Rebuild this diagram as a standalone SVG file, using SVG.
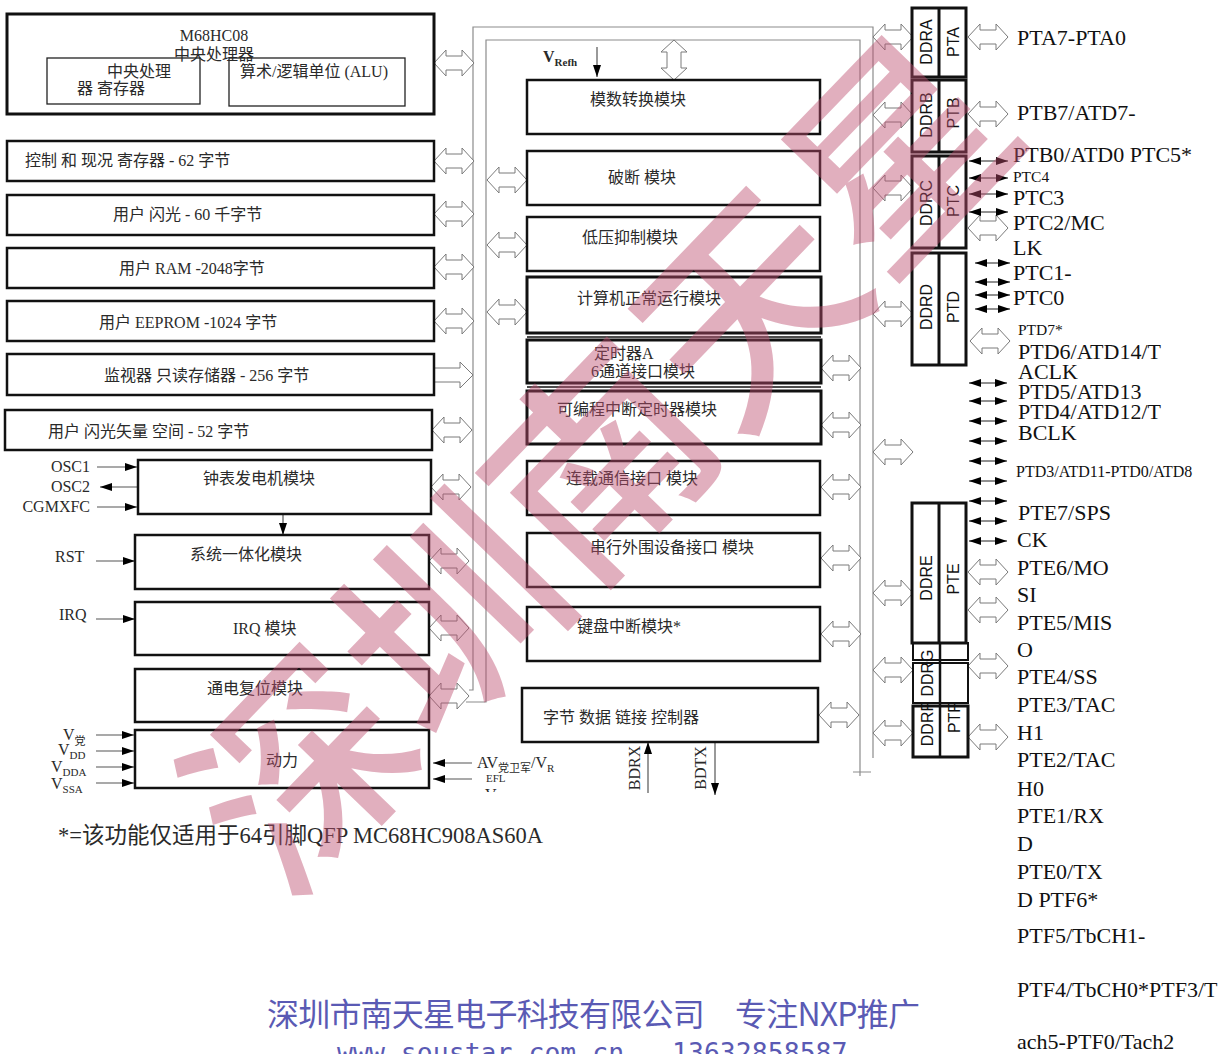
<svg xmlns="http://www.w3.org/2000/svg" xmlns:xlink="http://www.w3.org/1999/xlink" width="1225" height="1054" viewBox="0 0 1225 1054">
<style>
.b{fill:#fff;stroke:#111;stroke-width:2.5}
.b3{fill:#fff;stroke:#111;stroke-width:3}
.b1{fill:none;stroke:#222;stroke-width:1.3}
.bus{fill:none;stroke:#8c8c8c;stroke-width:1.2}
.ha{fill:#fff;stroke:#7a7a7a;stroke-width:1}
.ln{stroke:#555;stroke-width:1.2;fill:none}
.sa{stroke:#222;stroke-width:1.2;fill:none}
.t{font-family:"Liberation Serif","Noto Sans CJK SC",serif;font-size:16px;fill:#2a2a2a}
.c{text-anchor:middle}
.p{font-family:"Liberation Serif","Noto Sans CJK SC",serif;font-size:22px;fill:#111}
.sm{font-size:15.5px}
.r{font-family:"Liberation Sans",sans-serif;font-size:16px;fill:#111;text-anchor:middle;dominant-baseline:central}
.wm{font-family:"Noto Sans CJK SC",sans-serif;font-weight:500;font-size:215px;fill:#bc4d6f;fill-opacity:0.45}
.co{font-family:"Noto Sans CJK SC",sans-serif;font-size:32px;fill:#5a5ab4}
.url{font-family:"DejaVu Sans Mono",monospace;font-size:26.5px;fill:#5a5ab4}
</style>
<defs>
<path id="ha" d="M0,0 L12,-13 L12,-7 L28,-7 L28,-13 L40,0 L28,13 L28,7 L12,7 L12,13 Z"/>
<marker id="ah" viewBox="0 0 12 8" refX="12" refY="4" markerWidth="12" markerHeight="8" orient="auto-start-reverse" markerUnits="userSpaceOnUse"><path d="M0,0 L12,4 L0,8 Z" fill="#000"/></marker>
<clipPath id="clipv"><rect x="470" y="780" width="120" height="12"/></clipPath>
</defs>

<!-- connectors -->
<g id="connectors">
  <path class="bus" d="M469,690 H473 V27 H873 V758"/>
  <path class="bus" d="M466,702 H486 V40 H860 V776 M853,772 H871"/>
  <!-- left column hollow arrows -->
  <use href="#ha" class="ha" x="434" y="63"/>
  <use href="#ha" class="ha" x="434" y="161"/>
  <use href="#ha" class="ha" x="434" y="214"/>
  <use href="#ha" class="ha" x="434" y="267"/>
  <use href="#ha" class="ha" x="434" y="321"/>
  <path class="ha" d="M434,368 H460 V362 L473,375 L460,388 V382 H434 Z"/>
  <use href="#ha" class="ha" x="432" y="430"/>
  <use href="#ha" class="ha" x="431" y="487"/>
  <use href="#ha" class="ha" x="429" y="561"/>
  <use href="#ha" class="ha" x="429" y="628"/>
  <use href="#ha" class="ha" x="429" y="696"/>
  <!-- middle left -->
  <use href="#ha" class="ha" x="487" y="180"/>
  <use href="#ha" class="ha" x="487" y="245"/>
  <use href="#ha" class="ha" x="487" y="312"/>
  <use href="#ha" class="ha" transform="translate(674,40) rotate(90)"/>
  <!-- middle right -->
  <use href="#ha" class="ha" x="821" y="368"/>
  <use href="#ha" class="ha" x="821" y="425"/>
  <use href="#ha" class="ha" x="821" y="487"/>
  <use href="#ha" class="ha" x="821" y="558"/>
  <use href="#ha" class="ha" x="821" y="634"/>
  <use href="#ha" class="ha" x="819" y="715"/>
  <!-- right to ports -->
  <use href="#ha" class="ha" x="873" y="37"/>
  <use href="#ha" class="ha" x="873" y="115"/>
  <use href="#ha" class="ha" x="873" y="188"/>
  <use href="#ha" class="ha" x="873" y="314"/>
  <use href="#ha" class="ha" x="873" y="452"/>
  <use href="#ha" class="ha" x="873" y="593"/>
  <use href="#ha" class="ha" x="873" y="670"/>
  <use href="#ha" class="ha" x="873" y="733"/>
  <!-- port pins hollow -->
  <use href="#ha" class="ha" x="968" y="37"/>
  <use href="#ha" class="ha" x="968" y="114"/>
  <use href="#ha" class="ha" x="968" y="228"/>
  <use href="#ha" class="ha" x="970" y="341"/>
  <use href="#ha" class="ha" x="968" y="572"/>
  <use href="#ha" class="ha" x="968" y="610"/>
  <use href="#ha" class="ha" x="968" y="666"/>
  <use href="#ha" class="ha" x="968" y="737"/>
  <!-- port pins solid -->
  <g class="sa" marker-start="url(#ah)" marker-end="url(#ah)">
    <line x1="969" y1="161" x2="1008" y2="161"/>
    <line x1="969" y1="178" x2="1008" y2="178"/>
    <line x1="969" y1="194" x2="1008" y2="194"/>
    <line x1="969" y1="212" x2="1008" y2="212"/>
    <line x1="975" y1="263" x2="1010" y2="263"/>
    <line x1="975" y1="282" x2="1010" y2="282"/>
    <line x1="975" y1="295" x2="1010" y2="295"/>
    <line x1="975" y1="309" x2="1010" y2="309"/>
    <line x1="969" y1="383" x2="1007" y2="383"/>
    <line x1="969" y1="401" x2="1007" y2="401"/>
    <line x1="969" y1="421" x2="1007" y2="421"/>
    <line x1="969" y1="441" x2="1007" y2="441"/>
    <line x1="969" y1="461" x2="1007" y2="461"/>
    <line x1="969" y1="481" x2="1007" y2="481"/>
    <line x1="969" y1="501" x2="1007" y2="501"/>
    <line x1="969" y1="521" x2="1007" y2="521"/>
    <line x1="969" y1="541" x2="1007" y2="541"/>
  </g>
  <!-- signal arrows -->
  <g class="ln" marker-end="url(#ah)">
    <line x1="597" y1="47" x2="597" y2="77"/>
    <line x1="97" y1="467" x2="137" y2="467"/>
    <line x1="137" y1="487" x2="100" y2="487"/>
    <line x1="97" y1="507" x2="137" y2="507"/>
    <line x1="283" y1="514" x2="283" y2="535"/>
    <line x1="96" y1="561" x2="135" y2="561"/>
    <line x1="96" y1="619" x2="135" y2="619"/>
    <line x1="96" y1="735" x2="134" y2="735"/>
    <line x1="96" y1="751" x2="134" y2="751"/>
    <line x1="96" y1="767" x2="134" y2="767"/>
    <line x1="96" y1="783" x2="134" y2="783"/>
    <line x1="472" y1="763" x2="433" y2="763"/>
    <line x1="472" y1="779" x2="433" y2="779"/>
    <line x1="648" y1="793" x2="648" y2="742"/>
    <line x1="715" y1="742" x2="715" y2="795"/>
  </g>
</g>

<!-- left column -->
<g id="cpu">
  <rect class="b3" x="7" y="14" width="427" height="100"/>
  <text class="t c" x="214" y="41">M68HC08</text>
  <rect class="b1" x="47" y="58" width="153" height="46"/>
  <rect class="b1" x="229" y="58" width="176" height="48"/>
  <text class="t c" x="214" y="60">中央处理器</text>
  <text class="t" x="107" y="77">中央处理</text>
  <text class="t" x="77" y="94">器 寄存器</text>
  <text class="t" x="240" y="77">算术/逻辑单位 (ALU)</text>
</g>
<g id="ctrl"><rect class="b" x="7" y="141" width="427" height="40"/><text class="t" x="25" y="166">控制 和 现况 寄存器 - 62 字节</text></g>
<g id="flash"><rect class="b" x="7" y="195" width="427" height="40"/><text class="t" x="113" y="220">用户 闪光 - 60 千字节</text></g>
<g id="ram"><rect class="b" x="7" y="248" width="427" height="40"/><text class="t" x="119" y="274">用户 RAM -2048字节</text></g>
<g id="eeprom"><rect class="b" x="7" y="301" width="427" height="40"/><text class="t" x="99" y="328">用户 EEPROM -1024 字节</text></g>
<g id="rom"><rect class="b" x="7" y="354" width="427" height="41"/><text class="t" x="104" y="381">监视器 只读存储器 - 256 字节</text></g>
<g id="vector"><rect class="b" x="5" y="410" width="427" height="40"/><text class="t" x="48" y="437">用户 闪光矢量 空间 - 52 字节</text></g>
<g id="clock">
  <rect class="b" x="138" y="460" width="293" height="54"/><text class="t" x="203" y="484">钟表发电机模块</text>
  <text class="t" x="90" y="472" text-anchor="end">OSC1</text>
  <text class="t" x="90" y="492" text-anchor="end">OSC2</text>
  <text class="t" x="90" y="512" text-anchor="end">CGMXFC</text>
</g>
<g id="sim"><rect class="b" x="135" y="535" width="294" height="54"/><text class="t" x="190" y="560">系统一体化模块</text><text class="t" x="55" y="562">RST</text></g>
<g id="irq"><rect class="b" x="135" y="602" width="294" height="53"/><text class="t" x="233" y="634">IRQ 模块</text><text class="t" x="59" y="620">IRQ</text></g>
<g id="por"><rect class="b" x="135" y="669" width="294" height="53"/><text class="t" x="207" y="694">通电复位模块</text></g>
<g id="power">
  <rect class="b" x="135" y="730" width="294" height="58"/><text class="t" x="266" y="766">动力</text>
  <text class="t" x="63" y="740">V<tspan font-size="11" dy="5">党</tspan></text>
  <text class="t" x="58" y="755">V<tspan font-size="11" dy="4">DD</tspan></text>
  <text class="t" x="51" y="772">V<tspan font-size="11" dy="4">DDA</tspan></text>
  <text class="t" x="51" y="789">V<tspan font-size="11" dy="4">SSA</tspan></text>
  <text class="t" x="477" y="768">AV<tspan font-size="11" dy="4">党卫军</tspan><tspan dy="-4">/V</tspan><tspan font-size="11" dy="4">R</tspan></text>
  <text class="t" x="486" y="782" style="font-size:11px">EFL</text>
  <text class="t" x="485" y="800" clip-path="url(#clipv)">V<tspan font-size="11" dy="3">SSAM/VREFL</tspan></text>
</g>

<!-- middle column -->
<g id="adc"><rect class="b" x="527" y="80" width="293" height="54"/><text class="t" x="590" y="105">模数转换模块</text>
  <text class="t" x="543" y="62" font-weight="bold">V<tspan font-size="11" dy="4">Refh</tspan></text></g>
<g id="brk"><rect class="b" x="527" y="151" width="293" height="54"/><text class="t" x="608" y="183">破断 模块</text></g>
<g id="lvi"><rect class="b" x="527" y="217" width="293" height="54"/><text class="t" x="582" y="243">低压抑制模块</text></g>
<g id="cop"><rect class="b3" x="527" y="277" width="294" height="56"/><text class="t" x="577" y="304">计算机正常运行模块</text>
  <line x1="527" y1="337" x2="821" y2="337" stroke="#111" stroke-width="1.5"/></g>
<g id="tima"><rect class="b3" x="527" y="340" width="294" height="43"/><text class="t" x="594" y="359">定时器A</text><text class="t" x="591" y="377">6通道接口模块</text>
  <line x1="527" y1="387" x2="821" y2="387" stroke="#111" stroke-width="1.5"/></g>
<g id="pit"><rect class="b3" x="527" y="391" width="294" height="53"/><text class="t" x="557" y="415">可编程中断定时器模块</text></g>
<g id="sci"><rect class="b" x="527" y="461" width="293" height="54"/><text class="t" x="566" y="484">连载通信接口 模块</text></g>
<g id="spi"><rect class="b" x="527" y="533" width="293" height="54"/><text class="t" x="590" y="553">串行外围设备接口 模块</text></g>
<g id="kbi"><rect class="b" x="527" y="607" width="293" height="54"/><text class="t" x="577" y="632">键盘中断模块*</text></g>
<g id="bdlc"><rect class="b" x="522" y="688" width="296" height="54"/><text class="t" x="543" y="723">字节 数据 链接 控制器</text>
  <text class="t c" transform="translate(634,768) rotate(-90)" dominant-baseline="central">BDRX</text>
  <text class="t c" transform="translate(700,768) rotate(-90)" dominant-baseline="central">BDTX</text></g>

<!-- ports -->
<g id="porta"><rect class="b3" x="912" y="8" width="54" height="69"/><line x1="939" y1="8" x2="939" y2="77" stroke="#111" stroke-width="3"/>
  <text class="r" transform="translate(926,42) rotate(-90)">DDRA</text><text class="r" transform="translate(953,42) rotate(-90)">PTA</text></g>
<g id="portb"><rect class="b3" x="912" y="80" width="54" height="72"/><line x1="939" y1="80" x2="939" y2="152" stroke="#111" stroke-width="3"/>
  <text class="r" transform="translate(926,115) rotate(-90)">DDRB</text><text class="r" transform="translate(953,113) rotate(-90)">PTB</text></g>
<g id="portc"><rect class="b3" x="912" y="156" width="54" height="92"/><line x1="939" y1="156" x2="939" y2="248" stroke="#111" stroke-width="3"/>
  <text class="r" transform="translate(926,203) rotate(-90)">DDRC</text><text class="r" transform="translate(953,201) rotate(-90)">PTC</text></g>
<g id="portd"><rect class="b3" x="912" y="253" width="54" height="112"/><line x1="939" y1="253" x2="939" y2="365" stroke="#111" stroke-width="3"/>
  <text class="r" transform="translate(926,307) rotate(-90)">DDRD</text><text class="r" transform="translate(953,307) rotate(-90)">PTD</text></g>
<g id="porte"><rect class="b3" x="912" y="503" width="54" height="140"/><line x1="939" y1="503" x2="939" y2="643" stroke="#111" stroke-width="3"/>
  <text class="r" transform="translate(926,578) rotate(-90)">DDRE</text><text class="r" transform="translate(953,579) rotate(-90)">PTE</text></g>
<g id="portfg">
  <rect x="913" y="643" width="55" height="17" fill="none" stroke="#111" stroke-width="2"/>
  <rect x="913" y="663" width="55" height="40" fill="none" stroke="#111" stroke-width="2"/>
  <rect x="913" y="706" width="55" height="51" fill="none" stroke="#111" stroke-width="3"/>
  <line x1="940" y1="643" x2="940" y2="757" stroke="#111" stroke-width="2.5"/>
  <text class="r" transform="translate(927,673) rotate(-90)">DDRG</text>
  <text class="r" transform="translate(927,724) rotate(-90)">DDRF</text>
  <text class="r" transform="translate(954,718) rotate(-90)">PTF</text>
</g>

<!-- pin labels -->
<g id="pins">
  <text class="p" x="1017" y="45">PTA7-PTA0</text>
  <text class="p" x="1017" y="120">PTB7/ATD7-</text>
  <text class="p" x="1013" y="162">PTB0/ATD0 PTC5*</text>
  <text class="p sm" x="1013" y="182">PTC4</text>
  <text class="p" x="1013" y="205">PTC3</text>
  <text class="p" x="1013" y="230">PTC2/MC</text>
  <text class="p" x="1013" y="255">LK</text>
  <text class="p" x="1013" y="280">PTC1-</text>
  <text class="p" x="1013" y="305">PTC0</text>
  <text class="p sm" x="1018" y="335">PTD7*</text>
  <text class="p" x="1018" y="359">PTD6/ATD14/T</text>
  <text class="p" x="1018" y="379">ACLK</text>
  <text class="p" x="1018" y="399">PTD5/ATD13</text>
  <text class="p" x="1018" y="419">PTD4/ATD12/T</text>
  <text class="p" x="1018" y="440">BCLK</text>
  <text class="p" x="1016" y="477" style="font-size:16px">PTD3/ATD11-PTD0/ATD8</text>
  <text class="p" x="1018" y="520">PTE7/SPS</text>
  <text class="p" x="1017" y="547">CK</text>
  <text class="p" x="1017" y="575">PTE6/MO</text>
  <text class="p" x="1017" y="602">SI</text>
  <text class="p" x="1017" y="630">PTE5/MIS</text>
  <text class="p" x="1017" y="657">O</text>
  <text class="p" x="1017" y="684">PTE4/SS</text>
  <text class="p" x="1017" y="712">PTE3/TAC</text>
  <text class="p" x="1017" y="740">H1</text>
  <text class="p" x="1017" y="767">PTE2/TAC</text>
  <text class="p" x="1017" y="796">H0</text>
  <text class="p" x="1017" y="823">PTE1/RX</text>
  <text class="p" x="1017" y="851">D</text>
  <text class="p" x="1017" y="879">PTE0/TX</text>
  <text class="p" x="1017" y="907">D PTF6*</text>
  <text class="p" x="1017" y="943">PTF5/TbCH1-</text>
  <text class="p" x="1017" y="997">PTF4/TbCH0*PTF3/T</text>
  <text class="p" x="1017" y="1049">ach5-PTF0/Tach2</text>
</g>

<text class="t" x="58" y="843" style="font-size:22.5px">*=该功能仅适用于64引脚QFP MC68HC908AS60A</text>

<g id="watermark">
  <text class="wm" text-anchor="middle" dominant-baseline="central" transform="translate(590,452) rotate(-46)">深圳南天星</text>
  <text class="co" x="267" y="1026" textLength="653">深圳市南天星电子科技有限公司　专注NXP推广</text>
  <text class="url" x="337" y="1062">www.soustar.com.cn</text>
  <text class="url" x="672" y="1062">13632858587</text>
</g>
</svg>
